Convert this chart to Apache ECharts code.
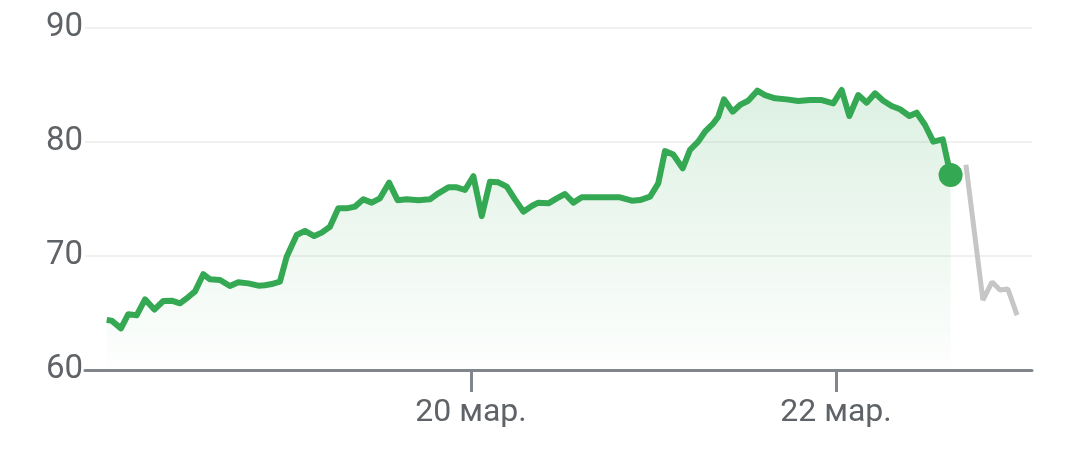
<!DOCTYPE html>
<html>
<head>
<meta charset="utf-8">
<title>Chart</title>
<script src="https://cdn.jsdelivr.net/npm/echarts@6/dist/echarts.min.js"></script>
<style>
  html, body { margin: 0; padding: 0; background: #fff; }
  #chart { width: 1080px; height: 465px; }
</style>
</head>
<body>
<div id="chart"></div>
<script>
// день марта (дробный) и цена
const days = [
  18.004, 18.031, 18.082, 18.122, 18.168, 18.214, 18.265, 18.314, 18.360, 18.405,
  18.451, 18.488, 18.533, 18.570, 18.625, 18.679, 18.725, 18.780, 18.835, 18.871,
  18.908, 18.953, 18.990, 19.045, 19.090, 19.141, 19.182, 19.227, 19.273, 19.319,
  19.364, 19.410, 19.456, 19.501, 19.551, 19.598, 19.648, 19.711, 19.775, 19.821,
  19.876, 19.922, 19.967, 20.013, 20.059, 20.104, 20.150, 20.196, 20.241, 20.287,
  20.333, 20.369, 20.424, 20.470, 20.515, 20.561, 20.607, 20.670, 20.744, 20.816,
  20.881, 20.926, 20.981, 21.026, 21.063, 21.108, 21.160, 21.200, 21.245, 21.282,
  21.328, 21.355, 21.386, 21.434, 21.474, 21.519, 21.569, 21.611, 21.666, 21.730,
  21.793, 21.858, 21.922, 21.985, 22.031, 22.073, 22.122, 22.168, 22.214, 22.259,
  22.305, 22.351, 22.402, 22.442, 22.488, 22.533, 22.585, 22.628
];
const prices = [
  64.39, 64.33, 63.65, 64.90, 64.80, 66.20, 65.30, 66.05, 66.08, 65.85,
  66.40, 66.90, 68.40, 67.95, 67.90, 67.37, 67.70, 67.60, 67.40, 67.43,
  67.54, 67.75, 69.94, 71.84, 72.20, 71.75, 72.05, 72.57, 74.18, 74.18,
  74.33, 74.97, 74.68, 75.06, 76.43, 74.90, 74.97, 74.90, 74.97, 75.50,
  76.02, 76.02, 75.79, 77.00, 73.50, 76.52, 76.46, 76.08, 74.97, 73.89,
  74.39, 74.68, 74.62, 75.06, 75.44, 74.68, 75.15, 75.15, 75.15, 75.15,
  74.85, 74.91, 75.20, 76.37, 79.20, 78.90, 77.69, 79.30, 80.03, 80.90,
  81.64, 82.22, 83.74, 82.66, 83.25, 83.62, 84.50, 84.12, 83.83, 83.74,
  83.60, 83.68, 83.68, 83.39, 84.56, 82.28, 84.12, 83.45, 84.27, 83.62,
  83.16, 82.87, 82.28, 82.57, 81.49, 80.03, 80.23, 77.10
];
// серая часть после последней точки
const afterDays = [22.712, 22.805, 22.855, 22.899, 22.942, 22.992];
const afterPrices = [78.0, 66.14, 67.72, 67.02, 67.10, 64.82];

const dateTicks = [20, 22];
const priceTicks = [60, 70, 80, 90];

const zip = (xs, ys) => xs.map((x, i) => [x, ys[i]]);
const last = prices.length - 1;

const chart = echarts.init(document.getElementById('chart'));

const option = {
  animation: false,
  grid: { left: 85, right: 48, top: 28, bottom: 95 },
  xAxis: {
    type: 'value',
    min: 17.885,
    max: 23.074,
    axisLine: { show: true, lineStyle: { color: '#80868b', width: 3 } },
    axisTick: {
      show: true,
      customValues: dateTicks,
      length: 22,
      lineStyle: { color: '#80868b', width: 3 }
    },
    axisLabel: {
      customValues: dateTicks,
      formatter: v => v + ' мар.',
      color: '#5f6368',
      fontFamily: 'Roboto',
      fontSize: 32,
      margin: 27
    },
    splitLine: { show: false }
  },
  yAxis: {
    type: 'value',
    min: priceTicks[0],
    max: priceTicks[priceTicks.length - 1],
    interval: 10,
    axisLine: { show: false },
    axisTick: { show: false },
    axisLabel: {
      color: '#5f6368',
      fontFamily: 'Roboto',
      fontSize: 33,
      margin: 2
    },
    splitLine: { lineStyle: { color: '#f1f1f1', width: 2 } }
  },
  series: [
    {
      type: 'line',
      data: zip(days, prices),
      symbol: 'none',
      lineStyle: { color: '#34a853', width: 6, join: 'round' },
      areaStyle: {
        color: new echarts.graphic.LinearGradient(0, 0, 0, 1, [
          { offset: 0, color: 'rgba(52,168,83,0.24)' },
          { offset: 1, color: 'rgba(52,168,83,0.01)' }
        ])
      },
      z: 3
    },
    {
      type: 'line',
      data: zip(afterDays, afterPrices),
      symbol: 'none',
      lineStyle: { color: '#c6c6c6', width: 5 },
      z: 2
    },
    {
      type: 'scatter',
      data: [[days[last], prices[last]]],
      symbolSize: 24,
      itemStyle: { color: '#34a853', opacity: 1 },
      z: 4
    }
  ]
};

chart.setOption(option);
window.addEventListener('resize', () => chart.resize());
</script>
</body>
</html>
